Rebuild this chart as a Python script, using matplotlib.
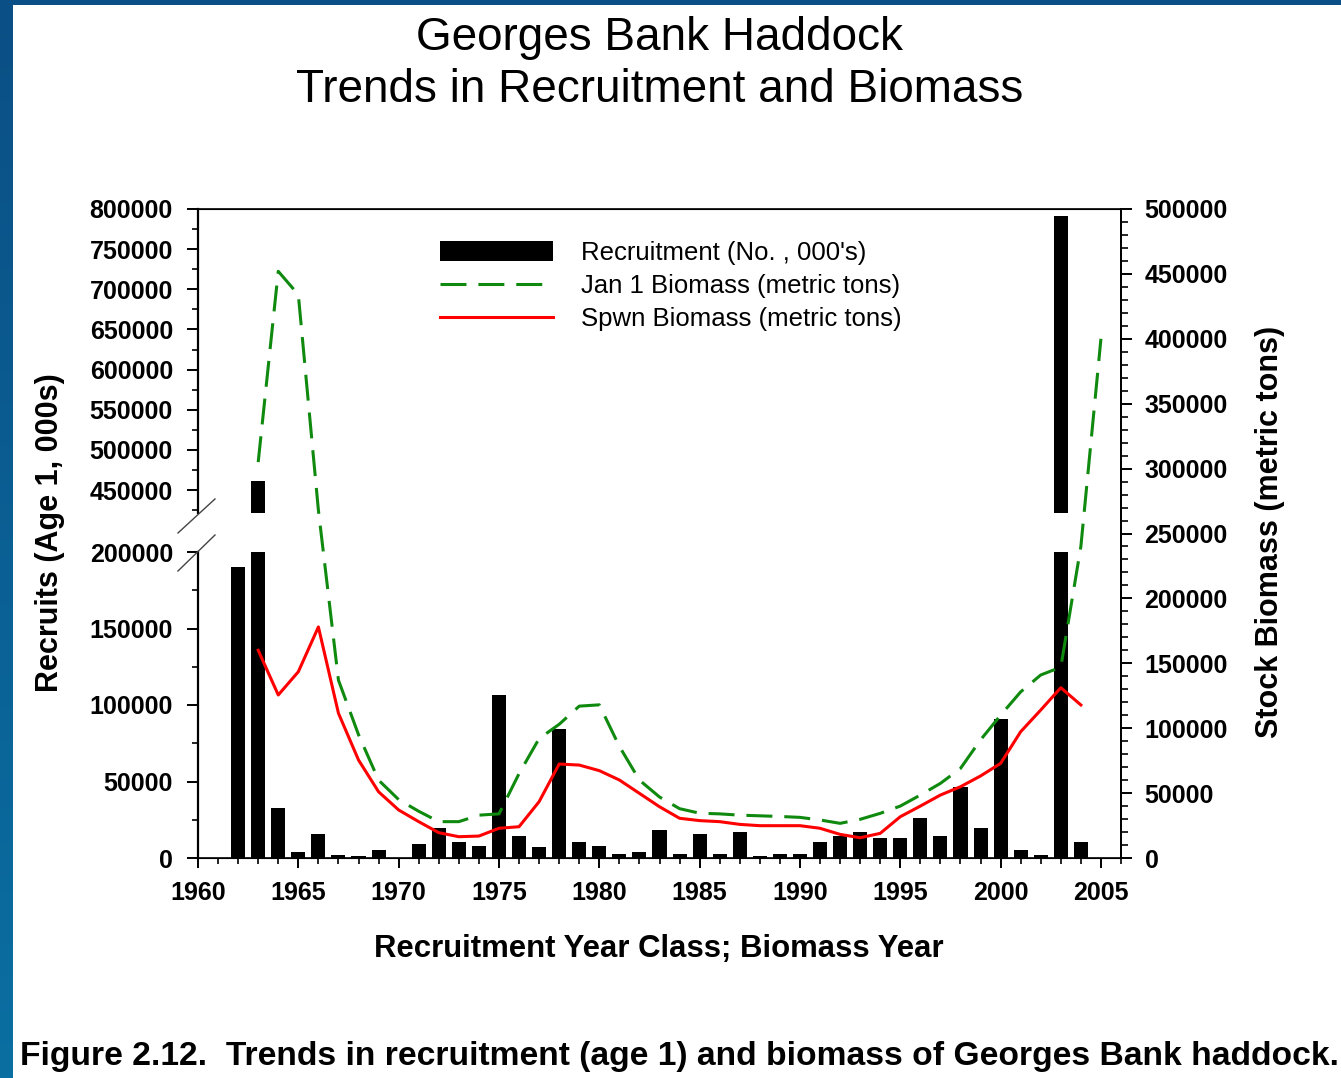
import numpy as np
import matplotlib
matplotlib.use("Agg")
import matplotlib.pyplot as plt

plt.rcParams["font.family"] = ["Liberation Sans", "DejaVu Sans"]

# ──────────────────────────────────────────────────────────────
# DATA
# ──────────────────────────────────────────────────────────────
recruit_years = list(range(1962, 2005))
recruits = [
    190000, 461000, 32900, 4100, 15900, 1700, 1500, 5400, 300, 9300,
    19800, 10700, 8000, 106500, 14600, 7000, 84500, 10700, 8000, 2800,
    4100, 18500, 2800, 15900, 2800, 17200, 1500, 2800, 2800, 10700,
    14600, 17200, 13300, 13300, 26300, 14600, 46600, 19800, 91000, 5400,
    1700, 791000, 10700,
]

jan1_years = list(range(1963, 2006))
jan1_biomass = [
    305000, 452000, 434000, 268000, 137000, 95000, 60000, 45000, 36000, 28000,
    28000, 33000, 34000, 65000, 92000, 103000, 117000, 118000, 86000, 60000,
    47000, 38000, 34500, 34000, 33000, 32500, 32000, 31300, 29300, 26700,
    29800, 34400, 40000, 48500, 57500, 69000, 91000, 110000, 128000, 141000,
    147000, 240000, 400000,
]

spawn_years = list(range(1963, 2005))
spawn_biomass = [
    160000, 125600, 143500, 178000, 111500, 75500, 51000, 37000, 28000, 19500,
    16400, 16900, 22900, 24100, 43400, 72400, 71600, 67300, 60100, 49800,
    39500, 30600, 28800, 28000, 25900, 24900, 24900, 24900, 22900, 18200,
    15600, 19000, 31800, 40000, 48500, 54900, 63200, 72900, 97300, 114000,
    131200, 117900,
]

left_major = [0, 50000, 100000, 150000, 200000,
              450000, 500000, 550000, 600000, 650000, 700000, 750000, 800000]
left_minor = [25000, 75000, 125000, 175000,
              425000, 475000, 525000, 575000, 625000, 675000, 725000, 775000]
right_major = list(range(0, 500001, 50000))
right_minor = list(range(0, 500001, 10000))
year_major = list(range(1960, 2006, 5))
year_minor = list(range(1960, 2007))

# ──────────────────────────────────────────────────────────────
# broken left axis: 0-200000 below the break, ~421000-800000 above
# ──────────────────────────────────────────────────────────────
BREAK_LO, BREAK_HI = 200000, 421400
SEG_V = [0, BREAK_LO, BREAK_HI, 800000]
SEG_U = [0, 306, 345, 649]


def fwd(v):
    return np.interp(v, SEG_V, SEG_U)


def inv(u):
    return np.interp(u, SEG_U, SEG_V)


fig = plt.figure(figsize=(13.41, 10.78), dpi=100)
fig.patch.set_facecolor("white")

# blue slide border (left strip + top strip)
border = fig.add_axes([0, 0, 12.5 / 1341, 1])
grad = np.linspace(0, 1, 256).reshape(-1, 1)
border.imshow(grad, aspect="auto", cmap=matplotlib.colors.LinearSegmentedColormap.from_list(
    "slide", ["#0a4f85", "#0a6fa2"]), extent=[0, 1, 0, 1], origin="upper")
border.axis("off")
top = fig.add_axes([0, 1 - 4.5 / 1078, 1, 4.5 / 1078])
top.set_facecolor("#0a4f85")
top.set_xticks([])
top.set_yticks([])
for s in top.spines.values():
    s.set_visible(False)

ax = fig.add_axes([198 / 1341, 220 / 1078, 923 / 1341, 649 / 1078])
ax.set_yscale("function", functions=(fwd, inv))
ax.set_ylim(0, 800000)
ax.set_xlim(1960, 2006)

bars = ax.bar(recruit_years, recruits, width=0.7, color="black", zorder=1,
              label="Recruitment (No. , 000's)")

# white band hides the bars across the break
ax.axhspan(BREAK_LO, BREAK_HI, xmin=0, xmax=0.97, facecolor="white",
           edgecolor="none", zorder=1.5)

# left spine drawn in two pieces with break marks
ax.spines["left"].set_visible(False)
ytrans = ax.get_yaxis_transform()
ax.plot([0, 0], [0, BREAK_LO], transform=ytrans, color="black", lw=1.6,
        clip_on=False, zorder=3)
ax.plot([0, 0], [BREAK_HI, 800000], transform=ytrans, color="black", lw=1.6,
        clip_on=False, zorder=3)
ax.plot([-0.0217, 0.0184], [0.5008, 0.5532], transform=ax.transAxes,
        color="#444444", lw=1.0, clip_on=False, zorder=3)
ax.plot([-0.0217, 0.0184], [0.4422, 0.4977], transform=ax.transAxes,
        color="#444444", lw=1.0, clip_on=False, zorder=3)

for s in ["top", "bottom", "right"]:
    ax.spines[s].set_linewidth(1.2)

ax.set_yticks(left_major)
ax.set_yticks(left_minor, minor=True)
ax.set_yticklabels([str(v) for v in left_major])
ax.set_xticks(year_major)
ax.set_xticks(year_minor, minor=True)
ax.set_xticklabels([str(v) for v in year_major])
ax.tick_params(axis="both", which="major", direction="out", length=8, width=1.4,
               labelsize=18, pad=10)
ax.tick_params(axis="both", which="minor", direction="out", length=4.5, width=1.2)
ax.tick_params(axis="x", which="major", length=7.5, pad=9)
for lab in ax.get_xticklabels() + ax.get_yticklabels():
    lab.set_fontweight("bold")

ax2 = ax.twinx()
ax2.set_ylim(0, 500000)
ax2.spines["left"].set_visible(False)
ax2.spines["right"].set_linewidth(1.4)
jan_line, = ax2.plot(jan1_years, jan1_biomass, color="#0f8a0f", lw=2.2,
                     linestyle=(0, (8.5, 3.9)), label="Jan 1 Biomass (metric tons)")
spwn_line, = ax2.plot(spawn_years, spawn_biomass, color="#ff0000", lw=2.2,
                      label="Spwn Biomass (metric tons)")
ax2.set_yticks(right_major)
ax2.set_yticks(right_minor, minor=True)
ax2.set_yticklabels([str(v) for v in right_major])
ax2.tick_params(axis="y", which="major", direction="out", length=8, width=1.4,
                labelsize=18, pad=9)
ax2.tick_params(axis="y", which="minor", direction="out", length=5, width=1.2)
for lab in ax2.get_yticklabels():
    lab.set_fontweight("bold")

ax2.legend([bars, jan_line, spwn_line],
           ["Recruitment (No. , 000's)", "Jan 1 Biomass (metric tons)",
            "Spwn Biomass (metric tons)"],
           loc="upper left", bbox_to_anchor=(0.262, 0.951), frameon=False,
           fontsize=18.5, handlelength=4.4, handleheight=0.8, handletextpad=1.1,
           labelspacing=0.36, borderaxespad=0, borderpad=0)

# titles and axis labels
fig.text(659 / 1341, 1 - 38 / 1078, "Georges Bank Haddock", fontsize=33,
         ha="center", va="center")
fig.text(660 / 1341, 1 - 90 / 1078, "Trends in Recruitment and Biomass",
         fontsize=33, ha="center", va="center")
fig.text(50 / 1341, 1 - 533 / 1078, "Recruits (Age 1, 000s)", fontsize=22,
         fontweight="bold", rotation=90, ha="center", va="center")
fig.text(1270 / 1341, 1 - 532 / 1078, "Stock Biomass (metric tons)", fontsize=22,
         fontweight="bold", rotation=90, ha="center", va="center")
fig.text(659 / 1341, 1 - 949 / 1078, "Recruitment Year Class; Biomass Year",
         fontsize=22.4, fontweight="bold", ha="center", va="center")
fig.text(20 / 1341, 1 - 1057 / 1078,
         "Figure 2.12.  Trends in recruitment (age 1) and biomass of Georges Bank haddock.",
         fontsize=24.2, fontweight="bold", ha="left", va="center")

fig.savefig("out.png", dpi=100, facecolor="white")
